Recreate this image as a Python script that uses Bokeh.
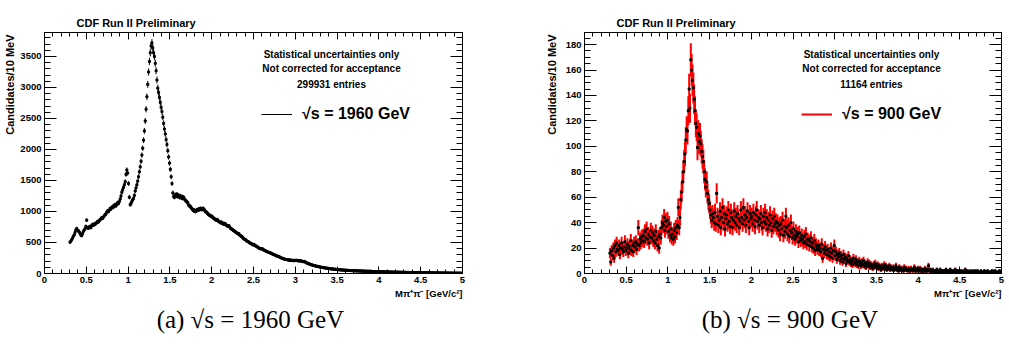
import numpy as np
from bokeh.plotting import figure
from bokeh.models import (Label, Legend, LegendItem, LinearAxis, ColumnDataSource,
                          Range1d, SingleIntervalTicker, PrintfTickFormatter, Title)
from bokeh.layouts import row
from bokeh.embed import file_html
from bokeh.resources import INLINE

# ---------------- data (10 MeV bins starting at 0.30 GeV/c^2) ----------------
mass_start = 0.30
bin_width = 0.01
x_ticks = [0, 0.5, 1, 1.5, 2, 2.5, 3, 3.5, 4, 4.5, 5]

counts_1960 = [
    505, 520, 545, 570, 600, 620, 660, 700, 725, 700,
    690, 670, 650, 620, 610, 640, 680, 700, 720, 760,
    860, 740, 730, 750, 760, 740, 770, 790, 780, 800,
    790, 810, 820, 840, 830, 850, 870, 880, 900, 890,
    910, 930, 950, 960, 990, 1010, 1000, 1020, 1050, 1040,
    1060, 1080, 1070, 1100, 1110, 1090, 1120, 1140, 1130, 1160,
    1200, 1250, 1310, 1350, 1390, 1430, 1480, 1600, 1670, 1620,
    1450, 1230, 1110, 1130, 1160, 1190, 1210, 1260, 1330, 1380,
    1430, 1490, 1560, 1640, 1720, 1810, 1910, 2020, 2150, 2300,
    2460, 2650, 2850, 3050, 3250, 3420, 3560, 3670, 3720, 3640,
    3560, 3500, 3390, 3270, 3120, 2990, 2920, 2840, 2760, 2680,
    2610, 2520, 2420, 2330, 2250, 2160, 2080, 1980, 1880, 1780,
    1680, 1560, 1450, 1300, 1240, 1230, 1270, 1250, 1280, 1240,
    1260, 1230, 1250, 1220, 1240, 1210, 1230, 1200, 1180, 1170,
    1150, 1140, 1100, 1090, 1080, 1060, 1040, 1030, 1010, 1020,
    1000, 1010, 1030, 1020, 1040, 1030, 1050, 1040, 1030, 1050,
    1040, 1020, 1000, 990, 980, 960, 950, 940, 930, 920,
    920, 900, 890, 880, 870, 860, 870, 850, 840, 830,
    820, 830, 810, 800, 810, 790, 800, 780, 770, 760,
    770, 750, 730, 720, 710, 700, 690, 680, 670, 660,
    650, 640, 640, 620, 610, 600, 590, 570, 560, 550,
    545, 530, 520, 515, 505, 495, 485, 480, 470, 460,
    470, 455, 445, 440, 430, 420, 410, 405, 400, 395,
    400, 385, 380, 370, 365, 355, 350, 345, 340, 335,
    330, 325, 315, 310, 305, 300, 290, 285, 280, 275,
    270, 265, 255, 250, 245, 240, 235, 230, 228, 225,
    222, 218, 215, 220, 212, 208, 215, 210, 205, 212,
    210, 215, 208, 205, 200, 210, 205, 198, 195, 190,
    195, 188, 180, 172, 165, 160, 155, 150, 145, 140,
    135, 132, 128, 125, 120, 118, 115, 112, 108, 105,
    102, 100, 97, 95, 92, 90, 88, 86, 84, 82,
    80, 78, 76, 74, 72, 71, 69, 68, 66, 65,
    64, 62, 61, 60, 58, 57, 56, 55, 54, 53,
    52, 51, 50, 50, 49, 48, 47, 47, 46, 45,
    45, 44, 43, 43, 42, 42, 41, 40, 40, 39,
    39, 38, 38, 37, 37, 36, 36, 35, 35, 34,
    34, 33, 33, 32, 32, 31, 31, 30, 30, 30,
    29, 29, 28, 28, 27, 27, 27, 26, 26, 25,
    25, 25, 24, 24, 23, 23, 23, 22, 22, 22,
    21, 21, 21, 20, 20, 20, 19, 19, 19, 18,
    18, 18, 18, 17, 17, 17, 16, 16, 16, 16,
    15, 15, 15, 15, 14, 14, 14, 14, 13, 13,
    13, 13, 12, 12, 12, 12, 12, 11, 11, 11,
    11, 11, 10, 10, 10, 10, 10, 9, 9, 9,
    9, 9, 9, 8, 8, 8, 8, 8, 8, 7,
    7, 7, 7, 7, 7, 7, 6, 6, 6, 6,
    6, 6, 6, 6, 5, 5, 5, 5, 5, 5,
]

counts_900 = [
    16, 9, 18, 14, 20, 12, 22, 17, 24, 19,
    18, 22, 15, 20, 24, 19, 17, 21, 25, 18,
    20, 23, 16, 21, 19, 26, 18, 22, 17, 24,
    21, 25, 19, 23, 36, 22, 27, 24, 29, 26,
    30, 25, 33, 28, 35, 27, 31, 24, 29, 34,
    28, 32, 26, 30, 24, 33, 27, 22, 29, 20,
    31, 28, 36, 40, 38, 44, 34, 41, 37, 42,
    33, 39, 30, 35, 28, 31, 27, 34, 29, 36,
    32, 38, 52, 36, 44, 58, 64, 72, 80, 88,
    94, 105, 113, 112, 128, 145, 130, 168, 160, 152,
    146, 137, 128, 118, 115, 99, 110, 104, 108, 102,
    96, 92, 88, 80, 74, 68, 72, 63, 58, 55,
    50, 46, 42, 47, 44, 40, 48, 39, 63, 45,
    38, 42, 49, 36, 44, 52, 40, 47, 35, 43,
    46, 39, 50, 41, 37, 48, 44, 36, 42, 49,
    40, 45, 38, 47, 43, 36, 41, 50, 44, 39,
    52, 42, 46, 38, 44, 49, 41, 36, 47, 43,
    45, 39, 48, 42, 37, 46, 50, 41, 44, 38,
    43, 47, 40, 36, 45, 41, 48, 39, 44, 35,
    42, 38, 46, 40, 34, 43, 37, 45, 39, 41,
    36, 40, 34, 38, 31, 39, 35, 42, 30, 37,
    33, 45, 36, 31, 38, 29, 34, 40, 32, 28,
    35, 30, 27, 33, 29, 31, 25, 32, 28, 26,
    30, 27, 24, 29, 25, 31, 23, 27, 26, 22,
    25, 28, 21, 24, 20, 26, 18, 23, 21, 19,
    22, 18, 20, 17, 23, 12, 19, 16, 21, 18,
    15, 19, 14, 17, 13, 20, 16, 12, 18, 22,
    14, 17, 11, 15, 13, 16, 10, 14, 12, 9,
    15, 11, 13, 8, 12, 10, 14, 9, 11, 8,
    10, 7, 12, 9, 8, 11, 7, 9, 6, 10,
    8, 6, 9, 7, 10, 6, 8, 5, 7, 9,
    6, 8, 5, 7, 6, 4, 7, 5, 8, 6,
    5, 7, 4, 6, 5, 3, 6, 4, 5, 7,
    4, 6, 3, 5, 4, 6, 3, 5, 4, 3,
    5, 3, 4, 6, 3, 4, 2, 5, 3, 4,
    3, 4, 2, 5, 3, 4, 3, 2, 4, 3,
    2, 4, 3, 2, 3, 5, 2, 3, 2, 4,
    3, 2, 4, 2, 3, 1, 3, 2, 4, 2,
    2, 3, 6, 2, 3, 1, 2, 3, 2, 1,
    2, 1, 3, 2, 1, 2, 3, 1, 2, 2,
    1, 2, 2, 3, 1, 2, 1, 2, 3, 1,
    2, 1, 2, 1, 3, 1, 2, 2, 1, 2,
    1, 2, 1, 1, 2, 1, 3, 1, 2, 1,
    1, 1, 2, 1, 1, 2, 1, 1, 2, 1,
    1, 2, 1, 1, 1, 2, 1, 1, 1, 2,
    1, 1, 1, 2, 1, 1, 1, 1, 2, 1,
    1, 1, 2, 1, 1, 1, 1, 2, 1, 1,
]

SANS = "Liberation Sans"
H = 344


def make_panel(counts, ymax, yint, yminor, err_color, err_width, key_label,
               entries_text, caption, width, b_left, b_right, ylab_standoff):
    counts = np.asarray(counts, dtype=float)
    xs = mass_start + bin_width * (np.arange(len(counts)) + 0.5)
    errs = np.sqrt(counts)
    src = ColumnDataSource(dict(x=xs, y=counts, lo=counts - errs, hi=counts + errs))

    p = figure(width=width, height=H, x_range=Range1d(0, 5), y_range=Range1d(0, ymax),
               output_backend="svg", toolbar_location=None,
               x_axis_location=None, y_axis_location=None,
               min_border_left=b_left, min_border_right=b_right,
               min_border_top=32, min_border_bottom=71)
    p.grid.visible = False
    p.outline_line_color = "black"
    p.outline_line_width = 1
    p.background_fill_color = "white"
    p.border_fill_color = "white"

    xt = SingleIntervalTicker(interval=0.5, num_minor_ticks=5)
    yt = SingleIntervalTicker(interval=yint, num_minor_ticks=yminor)

    def style(ax, major, minor, labels):
        ax.major_tick_in = major
        ax.major_tick_out = 0
        ax.minor_tick_in = minor
        ax.minor_tick_out = 0
        ax.axis_line_color = "black"
        ax.major_tick_line_color = "black"
        ax.minor_tick_line_color = "black"
        if labels:
            ax.major_label_text_font = SANS
            ax.major_label_text_font_style = "bold"
            ax.major_label_text_font_size = "9.5px"
            ax.major_label_text_color = "black"
            ax.major_label_standoff = 3
        else:
            ax.major_label_text_font_size = "1px"
            ax.major_label_text_color = None
            ax.major_label_standoff = 0

    bx = LinearAxis(ticker=xt, formatter=PrintfTickFormatter(format="%g"))
    style(bx, 7, 4, True)
    p.add_layout(bx, "below")
    tx = LinearAxis(ticker=xt)
    style(tx, 7, 4, False)
    p.add_layout(tx, "above")
    ly = LinearAxis(ticker=yt)
    style(ly, 12, 6, True)
    p.add_layout(ly, "left")
    ry = LinearAxis(ticker=yt)
    style(ry, 12, 6, False)
    p.add_layout(ry, "right")

    seg = p.segment(x0="x", y0="lo", x1="x", y1="hi", source=src,
                    line_color=err_color, line_width=err_width)
    p.scatter("x", "y", source=src, marker="square", size=2, color="black")

    # title above the frame: an explicit Title whose text sits at the top of its panel
    p.title.text = ""
    p.title.visible = False
    p.add_layout(Title(text="CDF Run II Preliminary", align="left", offset=32,
                       vertical_align="top", standoff=4,
                       text_font=SANS, text_font_style="bold",
                       text_font_size="11px", text_color="black"), "above")

    # y-axis title, top aligned as in ROOT
    p.add_layout(Title(text="Candidates/10 MeV", align="right", offset=2,
                       standoff=ylab_standoff, text_font=SANS, text_font_style="bold",
                       text_font_size="11px", text_color="black"), "left")
    # x-axis title, right aligned
    p.add_layout(Title(text="Mπ⁺π⁻ [GeV/c²]", align="right", standoff=0,
                       text_font=SANS, text_font_style="bold",
                       text_font_size="9.5px", text_color="black"), "below")
    # caption
    p.add_layout(Title(text=caption, align="center", standoff=10,
                       text_font="Liberation Serif", text_font_style="normal",
                       text_font_size="25px", text_color="black"), "below")

    def lab(text, xo, yo, size):
        p.add_layout(Label(x=0, y=ymax, x_offset=xo, y_offset=yo,
                           text=text, text_font=SANS, text_font_style="bold",
                           text_font_size=size, text_align="center",
                           text_baseline="middle", text_color="black"))

    lab("Statistical uncertainties only", 287, -22, "10px")
    lab("Not corrected for acceptance", 287, -35.5, "10px")
    lab(entries_text, 287, -52, "10px")

    leg = Legend(items=[LegendItem(label=key_label, renderers=[seg])],
                 location=(217, 150), margin=0, padding=0, spacing=0,
                 glyph_width=31, glyph_height=16, label_height=16,
                 label_standoff=10, label_text_font=SANS, label_text_color="black",
                 label_text_font_style="bold", label_text_font_size="16px",
                 border_line_alpha=0, background_fill_alpha=0)
    p.add_layout(leg)
    return p


p1 = make_panel(counts_1960, 3887, 500, 5, "black", 1, "√s = 1960 GeV",
                "299931 entries", "(a)  √s = 1960 GeV", 504, 44, 42, 3)
p2 = make_panel(counts_900, 189.5, 20, 4, "#ff0000", 2, "√s = 900 GeV",
                "11164 entries", "(b)  √s = 900 GeV", 505, 80, 8, 9)

layout = row(p1, p2)
open("out.html", "w").write(file_html(layout, INLINE))
